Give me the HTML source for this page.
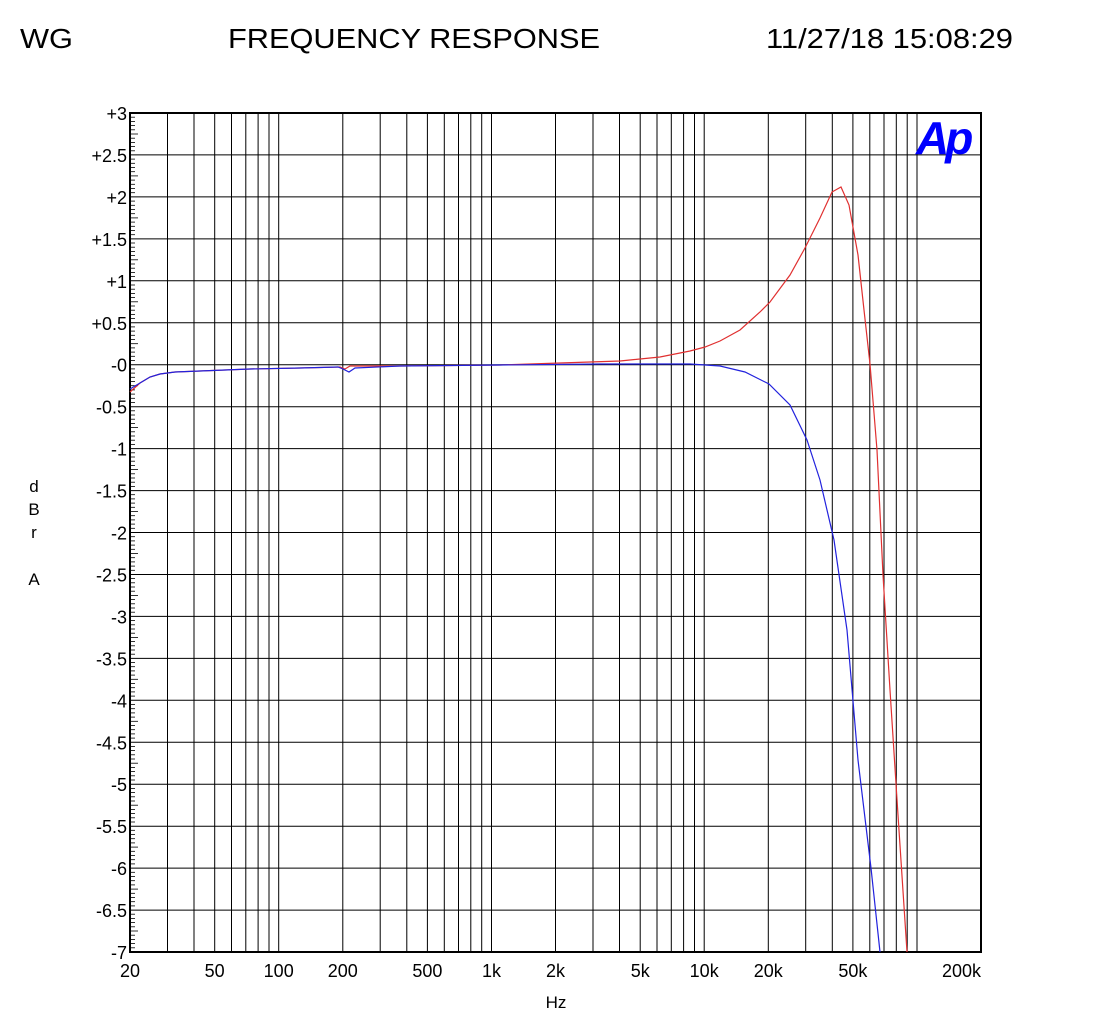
<!DOCTYPE html>
<html><head><meta charset="utf-8"><style>
body{margin:0;background:#fff;width:1110px;height:1024px;overflow:hidden;font-family:"Liberation Sans",sans-serif}
</style></head><body>
<svg id="s" width="1110" height="1024" xmlns="http://www.w3.org/2000/svg" font-family="Liberation Sans, sans-serif">
<text x="20" y="48" font-size="28" textLength="53" lengthAdjust="spacingAndGlyphs">WG</text>
<text x="228" y="48" font-size="28" textLength="372" lengthAdjust="spacingAndGlyphs">FREQUENCY RESPONSE</text>
<text x="766" y="48" font-size="28" textLength="247" lengthAdjust="spacingAndGlyphs">11/27/18 15:08:29</text>
<g font-size="17" text-anchor="middle">
<text x="34" y="492">d</text><text x="34" y="515">B</text><text x="34" y="538">r</text><text x="34" y="585">A</text>
<text x="556" y="1008">Hz</text>
</g>
<g id="grid"></g>
<text x="916" y="154" font-size="46" font-weight="bold" font-style="italic" fill="#0000ff" letter-spacing="-4">Ap</text>
<polyline fill="none" stroke="#e03030" stroke-width="1.2" points="130,392 140,383 150,377 160,374 175,372 200,371 250,369 300,368 340,367 345,369 350,366 400,366 500,365 560,363 620,361 660,357 690,351 705,347 720,341 740,330 760,312 770,302 790,275 805,248 820,218 832,192 841,187 849,205 858,255 864,310 870,364 877,450 883,575 890,690 898,815 907,952"/>
<polyline fill="none" stroke="#2222dd" stroke-width="1.2" points="130,389 140,383 150,377 160,374 175,372 200,371 250,369 300,368 338,367 343,369 349,372 355,368 400,366 500,365 600,364 690,364 720,366 745,372 769,384 790,405 807,440 820,480 834,540 847,630 858,760 871,868 880,952"/>
</svg>
<script>
const g=document.getElementById('grid');
const L=130,R=981,T=113,B=952,dec=212.75;
function X(f){return L+Math.log10(f/20)*dec}
function Y(d){return T+(3-d)*83.9}
let h='';
const fs=[];for(let e=1;e<=5;e++)for(let m=1;m<10;m++){const f=m*Math.pow(10,e);if(f>20&&f<200000)fs.push(f)}
fs.forEach(f=>{const x=X(f).toFixed(1);h+=`<line x1="${x}" y1="${T}" x2="${x}" y2="${B}" stroke="#000" stroke-width="1"/>`});
for(let d=-6.5;d<3;d+=0.5){const y=Y(d).toFixed(1);h+=`<line x1="${L}" y1="${y}" x2="${R}" y2="${y}" stroke="#000" stroke-width="1"/>`}
for(let i=0;i<=200;i++){const y=(T+i*839/200).toFixed(1);const len=(i%10==0)?0:(i%5==0?8:5);if(len)h+=`<line x1="${L}" y1="${y}" x2="${L+len}" y2="${y}" stroke="#000" stroke-width="0.8"/>`}
h+=`<rect x="${L}" y="${T}" width="${R-L}" height="${B-T}" fill="none" stroke="#000" stroke-width="2"/>`;
const yl=['+3','+2.5','+2','+1.5','+1','+0.5','-0','-0.5','-1','-1.5','-2','-2.5','-3','-3.5','-4','-4.5','-5','-5.5','-6','-6.5','-7'];
yl.forEach((t,i)=>{h+=`<text x="127" y="${(T+i*41.95+7).toFixed(1)}" font-size="18" text-anchor="end">${t}</text>`});
[[20,'20'],[50,'50'],[100,'100'],[200,'200'],[500,'500'],[1000,'1k'],[2000,'2k'],[5000,'5k'],[10000,'10k'],[20000,'20k'],[50000,'50k']].forEach(([f,t])=>{h+=`<text x="${X(f).toFixed(1)}" y="977" font-size="18" text-anchor="middle">${t}</text>`});
h+=`<text x="981" y="977" font-size="18" text-anchor="end">200k</text>`;
g.innerHTML=h;
</script>
</body></html>
